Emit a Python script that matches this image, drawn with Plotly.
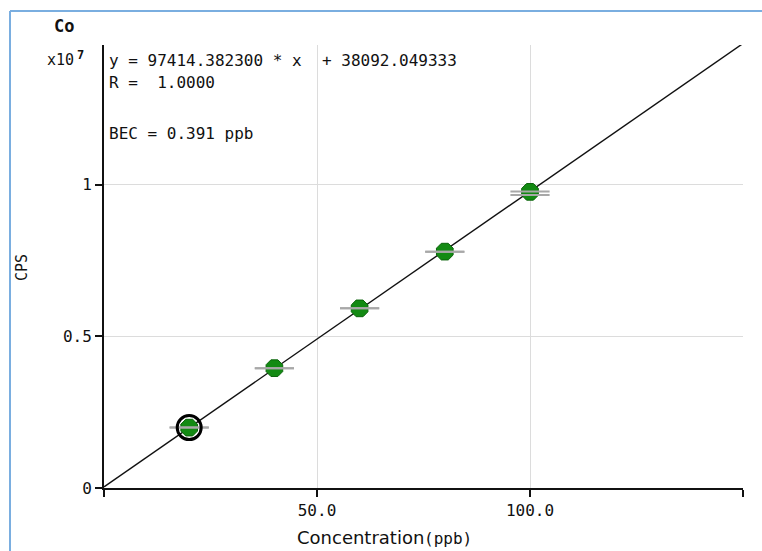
import plotly.graph_objects as go

# ---- data ----
conc_ppb = [20, 40, 60, 80, 100]
cps_e7 = [0.199, 0.395, 0.592, 0.779, 0.976]          # CPS / 1e7
rep_a_e7 = [0.199, 0.395, 0.592, 0.779, 0.977]
rep_b_e7 = [0.199, 0.395, 0.592, 0.779, 0.966]
slope = 97414.382300
intercept = 38092.049333
fit_x = [0, 150]
x_ticks = [50, 100]
x_ticktext = ["50.0", "100.0"]
x_end_ticks = [0, 150]
y_ticks = [0, 0.5, 1]
y_ticktext = ["0", "0.5", "1"]

W, H = 762, 551
L, R, T, B = 104, 743, 45, 488


def px(x):
    return (x - L) / (R - L)


def py(y):
    return (B - y) / (B - T)


fit_y = [(slope * x + intercept) / 1e7 for x in fit_x]

MONO = "DejaVu Sans Mono"

fig = go.Figure()
fig.add_trace(go.Scatter(x=fit_x, y=fit_y, mode="lines",
                         line=dict(color="#111111", width=1.4),
                         hoverinfo="skip", showlegend=False))
fig.add_trace(go.Scatter(x=conc_ppb, y=cps_e7, mode="markers",
                         marker=dict(symbol="octagon", size=18, color="#138a13",
                                     line=dict(color="#0c640c", width=1)),
                         showlegend=False))
fig.add_trace(go.Scatter(x=conc_ppb, y=rep_a_e7, mode="markers",
                         marker=dict(symbol="line-ew", size=28, color="#a8a8a8",
                                     line=dict(color="#a8a8a8", width=2)),
                         showlegend=False, hoverinfo="skip"))
fig.add_trace(go.Scatter(x=conc_ppb, y=rep_b_e7, mode="markers",
                         marker=dict(symbol="line-ew", size=28, color="#a8a8a8",
                                     line=dict(color="#a8a8a8", width=2)),
                         showlegend=False, hoverinfo="skip"))
# selected point ring
fig.add_trace(go.Scatter(x=conc_ppb[:1], y=cps_e7[:1], mode="markers",
                         marker=dict(symbol="circle-open", size=24, color="#000000",
                                     line=dict(color="#000000", width=3)),
                         showlegend=False, hoverinfo="skip"))

fig.update_layout(
    width=W, height=H, autosize=False,
    margin=dict(l=L, r=W - R, t=T, b=H - B, pad=0),
    paper_bgcolor="white", plot_bgcolor="white",
    xaxis=dict(range=[0, 150], tickmode="array", tickvals=x_ticks, ticktext=x_ticktext,
               showgrid=True, gridcolor="#dcdcdc", gridwidth=1,
               showline=True, linecolor="#111111", linewidth=2,
               ticks="outside", ticklen=7, tickwidth=2, tickcolor="#111111",
               tickfont=dict(family=MONO, size=16, color="#111111"),
               minor=dict(tickmode="array", tickvals=x_end_ticks, ticks="outside",
                          ticklen=7, tickwidth=2, tickcolor="#111111",
                          showgrid=True, gridcolor="#dcdcdc", gridwidth=1),
               zeroline=False, fixedrange=True),
    yaxis=dict(range=[0, 1.46], tickmode="array", tickvals=y_ticks, ticktext=y_ticktext,
               showgrid=True, gridcolor="#dcdcdc", gridwidth=1,
               showline=True, linecolor="#111111", linewidth=2,
               ticks="outside", ticklen=7, tickwidth=1.5, tickcolor="#111111",
               tickfont=dict(family=MONO, size=16, color="#111111"),
               zeroline=False, fixedrange=True),
)

ann = []


def text(x, y, s, size=16, family=MONO, anchor="left", angle=0, bold=False):
    if bold:
        s = "<b>" + s + "</b>"
    ann.append(dict(x=px(x), y=py(y), xref="paper", yref="paper", text=s,
                    showarrow=False, xanchor=anchor, yanchor="middle",
                    borderpad=0, borderwidth=0,
                    textangle=angle, font=dict(family=family, size=size, color="#111111")))


text(54, 26, "Co", size=17, bold=True)
text(47, 60, "x10", size=15)
text(77, 55, "7", size=12, bold=True)
text(109, 60, "y = 97414.382300 * x")
text(322, 60, "+ 38092.049333")
text(109, 83, "R =  1.0000")
text(109, 133, "BEC = 0.391 ppb")
text(22, 268, "CPS", size=15, anchor="center", angle=-90)
text(424, 537, "Concentration", size=18, family="DejaVu Sans", anchor="right")
text(424, 538, "(ppb)", size=16, family=MONO, anchor="left")
fig.update_layout(annotations=ann)

# window frame (blue border on left and top)
fig.add_shape(type="line", xref="paper", yref="paper",
              x0=px(10), y0=py(551), x1=px(10), y1=py(11),
              line=dict(color="#7aaee0", width=2))
fig.add_shape(type="line", xref="paper", yref="paper",
              x0=px(10), y0=py(11), x1=px(762), y1=py(11),
              line=dict(color="#7aaee0", width=2))

fig.write_html("out.html")
